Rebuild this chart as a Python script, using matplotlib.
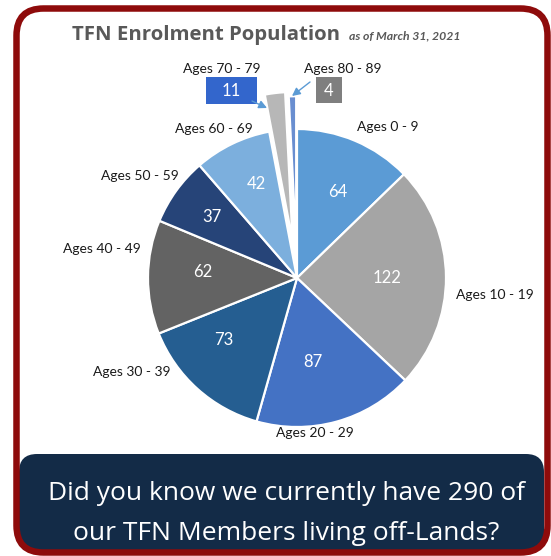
import matplotlib
matplotlib.use("Agg")
import matplotlib.pyplot as plt
from matplotlib.patches import FancyBboxPatch, Rectangle

# data
categories = ["Ages 0 - 9", "Ages 10 - 19", "Ages 20 - 29", "Ages 30 - 39",
              "Ages 40 - 49", "Ages 50 - 59", "Ages 60 - 69", "Ages 70 - 79",
              "Ages 80 - 89"]
members = [64, 122, 87, 73, 62, 37, 42, 11, 4]
explode_frac = [0, 0, 0, 0, 0, 0, 0, 0.25, 0.22]
colors = ["#5B9BD5", "#A5A5A5", "#4472C4", "#255E91", "#636363",
          "#264478", "#7CAFDD", "#B7B7B7", "#698ED0"]

W, H = 551, 556
RED = "#8E0B0B"
NAVY = "#132B47"


def Y(y):
    # image pixel row -> axes y (y up)
    return H - y


fig = plt.figure(figsize=(W / 100, H / 100), dpi=100)
ax = fig.add_axes([0, 0, 1, 1])

# pie
R = 149
cx, cy = 297, 278
wedges, _ = ax.pie(members, colors=colors, startangle=90, counterclock=False,
                   center=(cx, Y(cy)), radius=R,
                   explode=[f * R for f in explode_frac],
                   wedgeprops=dict(edgecolor="white", linewidth=1.6))
ax.set_xlim(0, W)
ax.set_ylim(0, H)
ax.set_aspect("auto")
ax.axis("off")

# value labels inside the slices (pixel positions)
val_pos = [(338, 192), (387, 278), (313, 362), (224, 340), (203, 272),
           (212, 217), (256, 184)]
for v, (x, y) in zip(members[:7], val_pos):
    ax.text(x, Y(y), str(v), color="white", fontsize=12, family="Lato",
            ha="center", va="center")

# category labels
cat_pos = [(388, 127), (495, 295), (315, 433), (132, 372), (102, 249),
           (140, 176), (214, 129), (222, 69), (343, 69)]
for c, (x, y) in zip(categories, cat_pos):
    ax.text(x, Y(y), c, color="#1a1a1a", fontsize=10, family="Lato",
            ha="center", va="center")

# callout boxes for the small slices
boxes = [((206, 77, 51, 27), "#3366CC", members[7]),
         ((316, 77, 26, 26), "#7F7F7F", members[8])]
for (x, y, w, h), fc, v in boxes:
    ax.add_patch(Rectangle((x, Y(y + h)), w, h, fc=fc, ec="none"))
    ax.text(x + w / 2, Y(y + h / 2 + 1), str(v), color="white", fontsize=12,
            family="Lato", ha="center", va="center")
ax.annotate("", xy=(267, Y(108)), xytext=(252, Y(101)),
            arrowprops=dict(arrowstyle="-|>", color="#5B9BD5", lw=1,
                            mutation_scale=12, shrinkA=0, shrinkB=0))
ax.annotate("", xy=(292, Y(96)), xytext=(310, Y(82)),
            arrowprops=dict(arrowstyle="-|>", color="#5B9BD5", lw=1,
                            mutation_scale=12, shrinkA=0, shrinkB=0))

# title
ax.text(72, Y(35), "TFN Enrolment Population", color="#595959",
        fontsize=14.7, family="Open Sans", weight="bold", ha="left", va="center")
ax.text(349, Y(36), "as of March 31, 2021", color="#595959", fontsize=8.8,
        family="Lato", weight="bold", style="italic", ha="left", va="center")

# bottom banner
ax.add_patch(FancyBboxPatch((19, Y(551)), 525, 97,
                            boxstyle="round,pad=0,rounding_size=18",
                            fc=NAVY, ec="none", zorder=3))
ax.text(286, Y(493), "Did you know we currently have 290 of", color="white",
        fontsize=19, family="Open Sans", ha="center", va="center", zorder=4)
ax.text(286, Y(533), "our TFN Members living off-Lands?", color="white",
        fontsize=19, family="Open Sans", ha="center", va="center", zorder=4)

# red rounded frame
ax.add_patch(FancyBboxPatch((16.5, Y(552.5)), 531, 544,
                            boxstyle="round,pad=0,rounding_size=27",
                            fc="none", ec=RED, lw=6.5 * 0.72, zorder=5))

fig.savefig("out.png", dpi=100)
